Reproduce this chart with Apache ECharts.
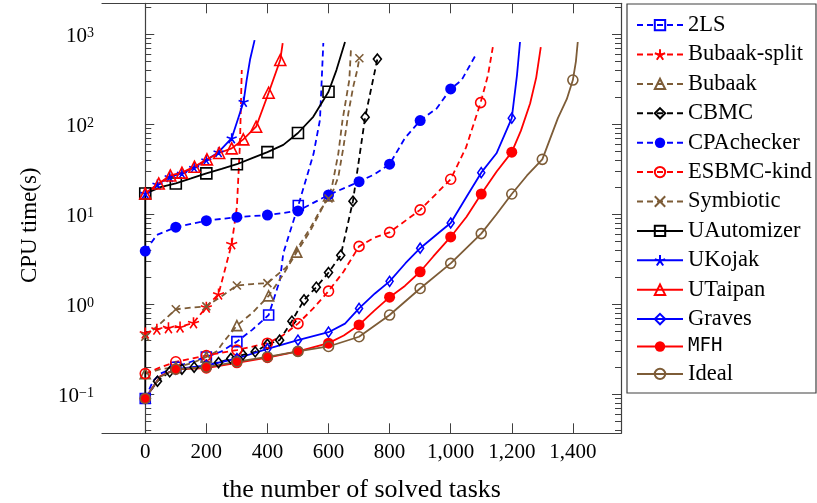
<!DOCTYPE html>
<html><head><meta charset="utf-8">
<script src="https://cdn.jsdelivr.net/npm/echarts@6/dist/echarts.min.js"></script>
<style>html,body{margin:0;padding:0;background:#fff}#c{width:817px;height:503px}</style>
</head><body><div id="c"></div>
<script>
// ---------------- data ----------------
const xTicks = [0, 200, 400, 600, 800, 1000, 1200, 1400];
const yTicks = [0.1, 1, 10, 100, 1000];
const seriesNames = ['2LS','Bubaak-split','Bubaak','CBMC','CPAchecker','ESBMC-kind','Symbiotic','UAutomizer','UKojak','UTaipan','Graves','MFH','Ideal'];

const twoLsTasks = [0,25,50,100,150,200,250,300,350,404,441,452,501,551,572,583];
const twoLsTimes = [0.09,0.14,0.17,0.2,0.23,0.26,0.3,0.385,0.52,0.76,1.86,3.7,12.5,47,112,800];
const twoLsMarks = [0,100,200,300,404,501];

const bubaakSplitTasks = [0,38,76,114,158,200,240,283,300,310,316];
const bubaakSplitTimes = [0.48,0.53,0.55,0.56,0.625,0.93,1.3,4.7,12,60,400];
const bubaakSplitMarks = [0,38,76,114,158,200,240,283];

const bubaakTasks = [0,50,100,150,200,234,256,300,350,404,450,496,540,572,600,611,632,646,668,674];
const bubaakTimes = [0.17,0.19,0.2,0.22,0.26,0.3,0.38,0.58,0.8,1.24,2.1,3.8,6.5,10.5,16,20,47,112,310,730];
const bubaakMarks = [0,100,200,300,404,496,600];

const cbmcTasks = [0,40,80,120,160,200,240,280,320,360,400,440,480,520,560,600,640,680,720,760];
const cbmcTimes = [0.09,0.14,0.178,0.19,0.2,0.21,0.225,0.25,0.275,0.297,0.36,0.40,0.65,1.12,1.55,2.25,3.5,14,120,530];
const cbmcMarks = [0,40,80,120,160,200,240,280,320,360,400,440,480,520,560,600,640,680,720,760];

const cpaTasks = [0,38,100,200,300,400,500,600,700,752,800,850,900,954,1000,1036,1085];
const cpaTimes = [3.9,5.9,7.2,8.5,9.3,9.8,10.9,16.4,23,28,36,70,110,150,247,310,615];
const cpaMarks = [0,100,200,300,400,500,600,700,800,900,1000];

const esbmcTasks = [0,50,100,200,300,400,450,500,550,600,649,700,750,800,900,1000,1050,1098,1122,1138];
const esbmcTimes = [0.17,0.2,0.23,0.27,0.31,0.37,0.45,0.61,0.9,1.4,2.3,4.4,5.5,6.3,11.2,24.5,55,174,350,720];
const esbmcMarks = [0,100,200,300,400,500,600,700,800,900,1000,1098];

const symbioticTasks = [0,49,100,150,200,256,300,350,400,463,500,540,572,600,616,632,649,665,681,694,701];
const symbioticTimes = [0.436,0.61,0.88,0.92,0.95,1.27,1.62,1.68,1.72,2.6,4.3,7,11,15,18.6,26,56,133,262,400,541];
const symbioticMarks = [0,100,200,300,400,600,701];

const uautoTasks = [0,0,50,100,150,200,250,300,350,400,452,500,550,600,626,654];
const uautoTimes = [0.09,17,20,22,25,28.5,32,36,42,49,59,80,121,230,400,820];
const uautoMarks = [0,100,200,300,400,500,600];

const ukojakTasks = [0,40,80,120,160,200,240,283,322,332,343,358];
const ukojakTimes = [17,21.5,26,28.5,33,40,49,70,178,310,520,860];
const ukojakMarks = [0,40,80,120,160,200,240,283,322];

const utaipanTasks = [0,44,82,120,161,202,242,283,321,363,404,442,450];
const utaipanTimes = [17,22,27,29,33.8,40.8,48,54,68,94,224,518,795];
const utaipanMarks = [0,44,82,120,161,202,242,283,321,363,404,442];

const gravesTasks = [0,50,100,200,300,400,500,600,654,700,752,800,852,900,965,1000,1052,1100,1150,1200,1217,1227];
const gravesTimes = [0.09,0.16,0.19,0.21,0.25,0.32,0.40,0.49,0.61,0.90,1.32,1.8,2.86,4.2,6.4,8,15.7,29,47.6,117,350,820];
const gravesMarks = [100,200,300,400,500,600,700,800,900,1000,1100,1200];

const mfhTasks = [0,50,100,200,300,400,500,600,650,700,750,800,850,900,943,1000,1052,1100,1150,1200,1230,1260,1280,1295];
const mfhTimes = [0.09,0.16,0.19,0.195,0.224,0.255,0.30,0.37,0.45,0.59,0.85,1.2,1.6,2.3,3.4,5.6,9.4,16.8,29.7,49,85,170,330,720];
const mfhMarks = [0,100,200,300,400,500,600,700,800,900,1000,1100,1200];

const idealTasks = [0,49,100,200,300,400,500,600,700,800,900,1000,1100,1150,1200,1250,1300,1351,1380,1400,1410,1416];
const idealTimes = [0.09,0.157,0.19,0.2,0.23,0.26,0.3,0.34,0.436,0.76,1.5,2.85,6.1,10,16.8,27,40.8,117,190,310,500,820];
const idealMarks = [0,100,200,300,400,500,600,700,800,900,1000,1100,1200,1300,1400];

// ---------------- styles ----------------
const FONT = '"Liberation Serif", "DejaVu Serif", serif';
const BLUE = '#0000ff', RED = '#ff0000', BLACK = '#000000', BROWN = '#7d5c37';
const STAR = 'path://M0,0L0,-10M0,0L-9.51,-3.09M0,0L-5.88,8.09M0,0L5.88,8.09M0,0L9.51,-3.09';
const CROSS = 'path://M-10,-10L10,10M-10,10L10,-10';
const styles = {
  '2LS':          {color: BLUE,  dash: true,  symbol: 'rect',     size: 10, fill: false},
  'Bubaak-split': {color: RED,   dash: true,  symbol: STAR,       size: 11, fill: false},
  'Bubaak':       {color: BROWN, dash: true,  symbol: 'triangle', size: 10, fill: false},
  'CBMC':         {color: BLACK, dash: true,  symbol: 'diamond',  size: [8, 10], fill: false},
  'CPAchecker':   {color: BLUE,  dash: true,  symbol: 'circle',   size: 11, fill: true},
  'ESBMC-kind':   {color: RED,   dash: true,  symbol: 'circle',   size: 10, fill: false},
  'Symbiotic':    {color: BROWN, dash: true,  symbol: CROSS,      size: 8,  fill: false},
  'UAutomizer':   {color: BLACK, dash: false, symbol: 'rect',     size: 11, fill: false},
  'UKojak':       {color: BLUE,  dash: false, symbol: STAR,       size: 10, fill: false},
  'UTaipan':      {color: RED,   dash: false, symbol: 'triangle', size: 11, fill: false},
  'Graves':       {color: BLUE,  dash: false, symbol: 'diamond',  size: [7, 10], fill: false},
  'MFH':          {color: RED,   dash: false, symbol: 'circle',   size: 11, fill: true},
  'Ideal':        {color: BROWN, dash: false, symbol: 'circle',   size: 10, fill: false}
};
const seriesData = {
  '2LS': [twoLsTasks, twoLsTimes, twoLsMarks],
  'Bubaak-split': [bubaakSplitTasks, bubaakSplitTimes, bubaakSplitMarks],
  'Bubaak': [bubaakTasks, bubaakTimes, bubaakMarks],
  'CBMC': [cbmcTasks, cbmcTimes, cbmcMarks],
  'CPAchecker': [cpaTasks, cpaTimes, cpaMarks],
  'ESBMC-kind': [esbmcTasks, esbmcTimes, esbmcMarks],
  'Symbiotic': [symbioticTasks, symbioticTimes, symbioticMarks],
  'UAutomizer': [uautoTasks, uautoTimes, uautoMarks],
  'UKojak': [ukojakTasks, ukojakTimes, ukojakMarks],
  'UTaipan': [utaipanTasks, utaipanTimes, utaipanMarks],
  'Graves': [gravesTasks, gravesTimes, gravesMarks],
  'MFH': [mfhTasks, mfhTimes, mfhMarks],
  'Ideal': [idealTasks, idealTimes, idealMarks]
};

function makeSeries(name) {
  const [tasks, times, marks] = seriesData[name];
  const st = styles[name];
  const data = tasks.map((t, i) => {
    const item = {value: [t, times[i]]};
    const isMark = marks.indexOf(t) >= 0 && tasks[i + 1] !== t;
    if (!isMark) item.symbol = 'none';
    return item;
  });
  return {
    name, type: 'line', data,
    symbol: st.symbol, symbolSize: st.size,
    showSymbol: true, showAllSymbol: true,
    lineStyle: {color: st.color, width: 1.8, type: st.dash ? [6, 4] : 'solid'},
    itemStyle: {color: st.fill ? st.color : 'rgba(255,255,255,0)', borderColor: st.color, borderWidth: st.fill ? 0 : 1.6},
    emphasis: {disabled: true}, animation: false, z: 3
  };
}

const Y_MIN = Math.pow(10, -1.433), Y_MAX = Math.pow(10, 3.344);
const minorTicks = [];
for (let e = -2; e <= 3; e++) for (let k = 2; k <= 9; k++) {
  const v = k * Math.pow(10, e);
  if (v > Y_MIN && v < Y_MAX) minorTicks.push(v);
}
const AX = '#404040';
function fmtX(v) { return v >= 1000 ? Math.floor(v / 1000) + ',' + String(v % 1000).padStart(3, '0') : String(v); }
function fmtY(v) { const e = Math.round(Math.log10(v)); return '{b|10}{s|' + (e < 0 ? '\u2212' + (-e) : e) + '}'; }

function yAxisCfg(pos, ticks, len, showLabel, showLine) {
  return {
    type: 'log', logBase: 10, min: Y_MIN, max: Y_MAX, position: pos,
    axisLine: {show: showLine, lineStyle: {color: AX, width: 1.2}},
    axisTick: {show: true, inside: true, length: len, customValues: ticks, lineStyle: {color: AX, width: 1}},
    axisLabel: showLabel ? {
      show: true, customValues: yTicks, formatter: fmtY, margin: 8, padding: [5, 0, 0, 0],
      rich: {
        b: {fontFamily: FONT, fontSize: 21, lineHeight: 21, color: '#000', padding: [4, 0, 0, 0], verticalAlign: 'bottom'},
        s: {fontFamily: FONT, fontSize: 14, lineHeight: 14, color: '#000', verticalAlign: 'top'}
      }
    } : {show: false},
    splitLine: {show: false}, minorTick: {show: false}
  };
}
const xBase = {
  type: 'value', min: -141.6, max: 1557.6,
  axisLine: {show: true, onZero: false, lineStyle: {color: AX, width: 1.2}},
  axisTick: {show: true, inside: true, length: 10, customValues: xTicks, lineStyle: {color: AX, width: 1}},
  splitLine: {show: false}
};

const option = {
  backgroundColor: '#fff',
  animation: false,
  grid: {left: 102, top: 3.3, right: 196, bottom: 69.7, show: false, containLabel: false, outerBoundsMode: 'none'},
  xAxis: [
    Object.assign({}, xBase, {
      position: 'bottom',
      axisLabel: {show: true, customValues: xTicks, formatter: fmtX, margin: 9, fontFamily: FONT, fontSize: 21, color: '#000'},
      name: 'the number of solved tasks', nameLocation: 'middle', nameGap: 44,
      nameTextStyle: {fontFamily: FONT, fontSize: 26, color: '#000'}
    }),
    Object.assign({}, xBase, {position: 'top', axisLabel: {show: false}})
  ],
  yAxis: [
    Object.assign(yAxisCfg('left', yTicks, 9, true, true), {
      name: 'CPU time(s)', nameLocation: 'middle', nameGap: 61, nameRotate: 90,
      nameTextStyle: {fontFamily: FONT, fontSize: 23, color: '#000', padding: [0, 14, 0, 0]}
    }),
    yAxisCfg('left', minorTicks, 6, false, false),
    yAxisCfg('right', yTicks, 9, false, true),
    yAxisCfg('right', minorTicks, 6, false, false)
  ],
  legend: {
    orient: 'vertical', left: 636, top: 13.6, padding: 0,
    itemWidth: 46, itemHeight: 13, itemGap: 6.4,
    selectedMode: false, z: 5,
    data: seriesNames,
    formatter: n => n === 'MFH' ? '{m|MFH}' : n,
    textStyle: {fontFamily: FONT, fontSize: 22.5, lineHeight: 13, color: '#000',
      rich: {m: {fontFamily: '"DejaVu Sans Mono", monospace', fontSize: 19, lineHeight: 13, color: '#000'}}}
  },
  graphic: [{type: 'rect', z: 1, shape: {x: 627, y: 4, width: 189, height: 389}, style: {fill: '#fff', stroke: AX, lineWidth: 1.2}}],
  series: seriesNames.map(makeSeries)
};

const chart = echarts.init(document.getElementById('c'), null, {renderer: 'canvas'});
chart.setOption(option);
</script>
</body></html>
